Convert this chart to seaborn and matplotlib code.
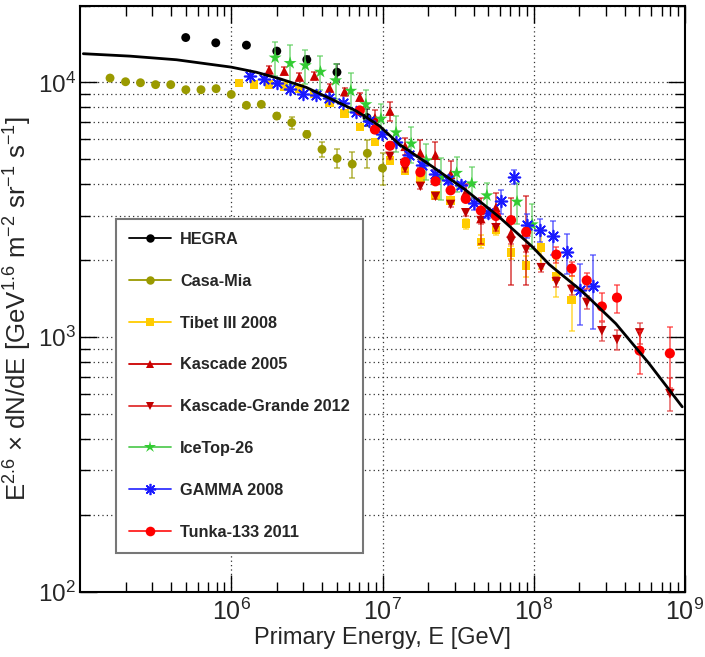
import matplotlib
matplotlib.use("Agg")
import matplotlib.pyplot as plt
import matplotlib.ticker as mticker
from matplotlib.lines import Line2D
import numpy as np
import seaborn as sns

# ---------------- data ----------------
hegra_E = [5.0e5, 7.9e5, 1.26e6, 2.0e6, 3.16e6, 5.0e6, 7.9e6]
hegra_F = [1.50e4, 1.43e4, 1.40e4, 1.327e4, 1.228e4, 1.097e4, 7.28e3]
hegra_err = [100, 100, 100, 250, 450, 800, 550]

casa_E = [1.58e5, 2.0e5, 2.51e5, 3.16e5, 3.98e5, 5.01e5, 6.31e5, 7.94e5, 1.0e6, 1.26e6,
          1.58e6, 2.0e6, 2.51e6, 3.16e6, 3.98e6, 5.01e6, 6.31e6, 7.94e6, 1.0e7]
casa_F = [1.04e4, 1.006e4, 9.97e3, 9.8e3, 9.8e3, 9.36e3, 9.36e3, 9.45e3, 8.97e3, 8.13e3,
          8.2e3, 7.38e3, 6.95e3, 6.25e3, 5.46e3, 5.03e3, 4.78e3, 5.27e3, 4.61e3]
casa_err = [60, 60, 60, 60, 60, 60, 60, 60, 60, 60,
            60, 200, 390, 170, 355, 430, 550, 660, 670]

tibet_E = [1.12e6, 1.41e6, 1.78e6, 2.24e6, 2.82e6, 3.55e6, 4.47e6, 5.62e6, 7.08e6, 8.91e6,
           1.12e7, 1.41e7, 1.78e7, 2.24e7, 2.82e7, 3.55e7, 4.47e7, 5.62e7, 7.08e7, 8.91e7,
           1.12e8, 1.41e8, 1.78e8]
tibet_F = [9.94e3, 9.82e3, 9.8e3, 9.64e3, 9.45e3, 9.03e3, 8.3e3, 7.54e3, 6.68e3, 5.85e3,
           4.94e3, 4.49e3, 4.19e3, 3.6e3, 3.44e3, 2.79e3, 2.37e3, 2.63e3, 2.15e3, 1.91e3,
           2.25e3, 1.73e3, 1.40e3]
tibet_err = [60, 60, 60, 60, 60, 60, 60, 60, 60, 60,
             80, 80, 80, 90, 90, 130, 140, 120, 120, 180,
             400, 290, 340]

kas_E = [1.78e6, 2.24e6, 2.82e6, 3.55e6, 4.47e6, 5.62e6, 7.08e6, 8.91e6, 1.12e7, 1.41e7,
         1.78e7, 2.24e7, 2.82e7, 3.55e7, 4.47e7, 5.62e7, 7.08e7, 8.91e7]
kas_F = [1.12e4, 1.107e4, 1.05e4, 1.06e4, 9.5e3, 9.2e3, 8.75e3, 7.26e3, 7.71e3, 5.61e3,
         5.28e3, 5.18e3, 4.36e3, 3.71e3, 2.92e3, 3.23e3, 2.56e3, 2.59e3]
kas_err = [410, 410, 390, 390, 350, 340, 320, 545, 655, 420,
           655, 640, 540, 280, 600, 450, 950, 980]

kg_E = [1.12e7, 1.41e7, 1.78e7, 2.24e7, 2.82e7, 3.55e7, 4.47e7, 5.62e7, 7.08e7, 8.91e7,
        1.12e8, 1.41e8, 1.78e8, 2.24e8, 2.82e8, 3.55e8, 5.01e8, 7.94e8]
kg_F = [5.13e3, 4.59e3, 3.91e3, 3.57e3, 3.32e3, 3.08e3, 2.87e3, 2.69e3, 2.38e3, 2.21e3,
        1.875e3, 1.65e3, 1.54e3, 1.37e3, 1.06e3, 979, 1.04e3, 601]
kg_err = [140, 125, 105, 95, 90, 85, 80, 75, 65, 60,
          70, 75, 70, 75, 90, 90, 100, 90]

ice_E = [1.95e6, 2.45e6, 3.09e6, 3.89e6, 4.90e6, 6.17e6, 7.76e6, 9.77e6, 1.23e7, 1.55e7,
         1.95e7, 2.45e7, 3.09e7, 3.89e7, 4.90e7, 7.76e7, 9.77e7]
ice_F = [1.25e4, 1.19e4, 1.166e4, 1.10e4, 1.018e4, 9.26e3, 8.2e3, 7.2e3, 6.36e3, 5.75e3,
         4.94e3, 4.25e3, 4.41e3, 4.01e3, 3.6e3, 3.40e3, 2.77e3]
ice_err = [1950, 2100, 1800, 1700, 1580, 1620, 1110, 1040, 1050, 940,
           810, 780, 680, 660, 420, 620, 560]

gamma_E = [1.34e6, 1.64e6, 2.00e6, 2.44e6, 2.99e6, 3.65e6, 4.46e6, 5.46e6, 6.67e6, 8.15e6,
           9.96e6, 1.22e7, 1.49e7, 1.82e7, 2.22e7, 2.71e7, 3.32e7, 4.05e7, 4.95e7, 6.05e7,
           7.40e7, 9.04e7, 1.10e8, 1.35e8, 1.65e8, 2.02e8, 2.46e8]
gamma_F = [1.056e4, 1.027e4, 9.97e3, 9.45e3, 8.97e3, 8.92e3, 8.65e3, 8.32e3, 7.65e3, 7.05e3,
           6.29e3, 5.81e3, 5.18e3, 4.73e3, 4.39e3, 4.13e3, 3.94e3, 3.35e3, 3.08e3, 3.41e3,
           4.27e3, 2.75e3, 2.64e3, 2.49e3, 2.16e3, 1.53e3, 1.585e3]
gamma_err = [190, 185, 180, 170, 160, 160, 155, 150, 140, 125,
             115, 155, 140, 130, 160, 150, 140, 180, 140, 365,
             270, 295, 280, 380, 385, 410, 510]

tunka_E = [7.08e6, 8.91e6, 1.12e7, 1.41e7, 1.78e7, 2.24e7, 2.82e7, 3.55e7, 4.47e7, 5.62e7,
           7.08e7, 8.91e7, 1.41e8, 1.78e8, 2.24e8, 2.82e8, 3.55e8, 5.01e8, 7.94e8]
tunka_F = [7.76e3, 6.53e3, 5.64e3, 4.87e3, 4.44e3, 4.09e3, 3.77e3, 3.49e3, 3.14e3, 2.99e3,
           2.88e3, 2.59e3, 2.11e3, 1.86e3, 1.67e3, 1.32e3, 1.43e3, 886, 864]
tunka_err = [210, 175, 150, 130, 120, 110, 100, 95, 85, 80,
             80, 90, 150, 117, 120, 165, 180, 167, 230]

curve_E = [1.052e5, 2.14e5, 4.35e5, 6.86e5, 1.0e6, 1.466e6, 2.09e6, 3.13e6, 4.70e6, 6.70e6,
           9.55e6, 1.294e7, 2.15e7, 3.57e7, 5.92e7, 9.82e7, 1.265e8, 2.10e8, 3.49e8, 5.78e8,
           9.59e8]
curve_F = [1.296e4, 1.268e4, 1.227e4, 1.183e4, 1.148e4, 1.096e4, 1.034e4, 9.56e3, 8.54e3, 7.73e3,
           6.75e3, 5.71e3, 4.66e3, 3.77e3, 2.96e3, 2.26e3, 1.93e3, 1.51e3, 1.13e3, 789,
           533]

labels = ["HEGRA", "Casa-Mia", "Tibet III 2008", "Kascade 2005", "Kascade-Grande 2012",
          "IceTop-26", "GAMMA 2008", "Tunka-133 2011"]
x_ticks = [1e6, 1e7, 1e8, 1e9]

# ---------------- style ----------------
sns.set_theme(style="ticks")
plt.rcParams["font.family"] = ["Liberation Sans", "DejaVu Sans"]
plt.rcParams["mathtext.fontset"] = "custom"
plt.rcParams["mathtext.rm"] = "Liberation Sans"
plt.rcParams["mathtext.it"] = "Liberation Sans:italic"
plt.rcParams["mathtext.bf"] = "Liberation Sans:bold"
plt.rcParams["axes.unicode_minus"] = False

fig = plt.figure(figsize=(7.05, 6.57), dpi=100)
fig.patch.set_facecolor("white")
ax = fig.add_axes([80 / 705, 1 - 592 / 657, 605 / 705, 586.3 / 657])
ax.set_facecolor("white")
ax.set_xscale("log")
ax.set_yscale("log")

asterisk = (8, 2, 0)
series = [
    (hegra_E, hegra_F, hegra_err, "#000000", "#000000", "o", 6.4, 0.0),
    (casa_E, casa_F, casa_err, "#9a9a00", "#9a9a00", "o", 6.4, 0.0),
    (tibet_E, tibet_F, tibet_err, "#ffcc00", "#ffcc00", "s", 6.0, 0.0),
    (kas_E, kas_F, kas_err, "#cc0000", "#cc0000", "^", 6.8, 0.0),
    (kg_E, kg_F, kg_err, "#c00000", "#e03030", "v", 6.8, 0.0),
    (ice_E, ice_F, ice_err, "#33cc33", "#55cc55", "*", 9.8, 0.0),
    (gamma_E, gamma_F, gamma_err, "#1a1aff", "#3333ff", asterisk, 8.5, 1.2),
    (tunka_E, tunka_F, tunka_err, "#ff0000", "#ff2020", "o", 7.3, 0.0),
]

for i, (E, F, err, col, ecol, mk, ms, lw) in enumerate(series):
    ax.errorbar(E, F, yerr=err, fmt="none", ecolor=ecol, alpha=0.65,
                elinewidth=1.3, capsize=2.2, capthick=1.2, zorder=3 + i * 0.1)
    if mk == asterisk:
        sns.scatterplot(x=E, y=F, ax=ax, marker=mk, s=ms ** 2, color=col,
                        edgecolor=col, linewidth=lw, zorder=3.05 + i * 0.1, legend=False)
    else:
        sns.scatterplot(x=E, y=F, ax=ax, marker=mk, s=ms ** 2, color=col,
                        edgecolor="none", linewidth=0, zorder=3.05 + i * 0.1, legend=False)

sns.lineplot(x=curve_E, y=curve_F, ax=ax, color="black", linewidth=2.0,
             sort=False, estimator=None, zorder=5)

ax.set_xlim(1e5, 1e9)
ax.set_ylim(1e2, 2e4)

ax.xaxis.set_major_locator(mticker.FixedLocator(x_ticks))
ax.xaxis.set_minor_locator(mticker.LogLocator(base=10, subs=np.arange(2, 10), numticks=20))
ax.yaxis.set_major_locator(mticker.LogLocator(base=10, numticks=10))
ax.yaxis.set_minor_locator(mticker.LogLocator(base=10, subs=np.arange(2, 10), numticks=20))
ax.xaxis.set_major_formatter(mticker.LogFormatterSciNotation())
ax.yaxis.set_major_formatter(mticker.LogFormatterSciNotation())
ax.xaxis.set_minor_formatter(mticker.NullFormatter())
ax.yaxis.set_minor_formatter(mticker.NullFormatter())

ax.tick_params(which="both", direction="in", top=True, right=True, color="black")
ax.tick_params(which="major", length=12, width=1.0, labelsize=18, pad=5)
ax.tick_params(axis="y", which="major", labelsize=17.5, pad=3)
ax.tick_params(which="minor", length=7, width=1.0)

grid_kw = dict(linestyle=(0, (1, 2.5)), color="#333333", linewidth=0.9)
ax.yaxis.grid(True, which="both", **grid_kw)
ax.xaxis.grid(True, which="major", **grid_kw)
ax.set_axisbelow(True)

for sp in ax.spines.values():
    sp.set_visible(True)
    sp.set_color("black")
    sp.set_linewidth(1.5)

ax.set_xlabel("Primary Energy, E [GeV]", fontsize=17)
ax.xaxis.set_label_coords(0.5, -0.059)
ax.set_ylabel(r"E$^{2.6}$ × dN/dE [GeV$^{1.6}$ m$^{-2}$ sr$^{-1}$ s$^{-1}$]", fontsize=18.5)
ax.yaxis.set_label_coords(-0.076, 0.483)

# legend
handles = []
for lab, (E, F, err, col, ecol, mk, ms, lw) in zip(labels, series):
    handles.append(Line2D([0], [0], color=ecol, linewidth=1.3, marker=mk, markersize=ms * 0.95,
                          markerfacecolor=col, markeredgecolor=col,
                          markeredgewidth=lw if mk == asterisk else 0.0))
leg = ax.legend(handles, labels, loc="upper left",
                bbox_to_anchor=(116 / 705, 1 - 219 / 657), bbox_transform=fig.transFigure,
                borderaxespad=0, prop=dict(family="Liberation Sans", weight="bold", size=11.7),
                labelspacing=1.65, handlelength=2.6, handletextpad=0.55, borderpad=0.8,
                frameon=True, fancybox=False, framealpha=1.0, edgecolor="#777777")
leg.get_frame().set_linewidth(1.5)
leg.set_zorder(10)

fig.savefig("out.png", dpi=100, facecolor="white")
